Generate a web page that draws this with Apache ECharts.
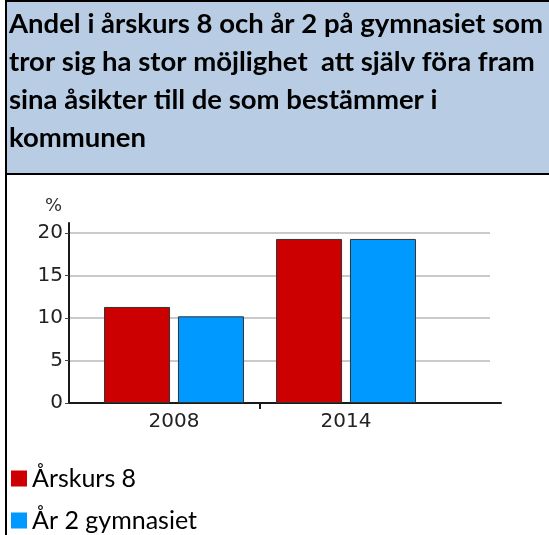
<!DOCTYPE html>
<html>
<head>
<meta charset="UTF-8">
<title></title>
<script src="https://cdn.jsdelivr.net/npm/echarts@6/dist/echarts.min.js"></script>
<style>
* { margin: 0; padding: 0; }
#app { width: 549px; height: 535px; background: #fff; }
</style>
</head>
<body>
<div id="app"></div>
<script>
var myChart = echarts.init(document.getElementById('app'));

var titleLines = [
	'Andel i årskurs 8 och år 2 på gymnasiet som',
	'tror sig ha stor möjlighet  att själv föra fram',
	'sina åsikter till de som bestämmer i',
	'kommunen'
];
var years = ['2008', '2014'];
var seriesNames = ['Årskurs 8', 'År 2 gymnasiet'];
var arskurs8 = [11.3, 19.3];
var gymnasiet = [10.2, 19.3];
var colors = ['#cc0000', '#0099ff'];

// tick between the categories only
var bandEdges = years.slice(1).map(function(y, i) { return i + 1; });

var noAxis = {
	axisLine: { show: false },
	axisTick: { show: false },
	axisLabel: { show: false },
	splitLine: { show: false }
};

function frameAxis(grid) {
	return {
		gridIndex: grid,
		type: 'value',
		min: 0,
		max: 1,
		axisLine: { show: true, onZero: false, lineStyle: { color: '#1a1a1a', width: 2 } },
		axisTick: { show: false },
		axisLabel: { show: false },
		splitLine: { show: false }
	};
}

var option = {
	animation: false,
	title: {
		text: titleLines.join('\n'),
		left: 9,
		top: 5,
		padding: 0,
		textStyle: {
			fontFamily: 'Lato',
			fontWeight: 'bold',
			fontSize: 27.5,
			lineHeight: 38,
			color: '#000'
		}
	},
	graphic: [
		{
			type: 'rect',
			z: -10,
			shape: { x: 6, y: 1, width: 560, height: 173 },
			style: { fill: '#b8cce4', stroke: '#000', lineWidth: 2 }
		},
		{
			type: 'line',
			z: -10,
			shape: { x1: 6, y1: 174, x2: 6, y2: 540 },
			style: { stroke: '#000', lineWidth: 2 }
		}
	],
	legend: {
		orient: 'vertical',
		left: 11,
		top: 466,
		height: 120,
		padding: 0,
		itemWidth: 16,
		itemHeight: 16,
		itemGap: 17,
		icon: 'rect',
		itemStyle: { borderWidth: 0 },
		data: seriesNames,
		textStyle: {
			fontFamily: 'Lato',
			fontSize: 25,
			color: '#000'
		}
	},
	grid: [
		{ left: 69, right: 48, top: 223, bottom: 132 },
		{ left: 69, right: 59, top: 233, bottom: 132 },
		{ left: 88, right: 117, top: 233, bottom: 132 }
	],
	xAxis: [
		frameAxis(0),
		Object.assign({ gridIndex: 1, type: 'value', min: 0, max: 1, show: false }, noAxis),
		{
			gridIndex: 2,
			type: 'category',
			position: 'bottom',
			data: years,
			axisLine: { show: false },
			axisTick: { show: false },
			axisLabel: {
				margin: 9,
				fontFamily: 'DejaVu Sans',
				fontSize: 20,
				color: '#222'
			}
		},
		{
			gridIndex: 2,
			type: 'value',
			position: 'bottom',
			min: 0,
			max: years.length,
			axisLine: { show: false, onZero: false },
			axisTick: { show: true, customValues: bandEdges, length: 6, lineStyle: { color: '#1a1a1a', width: 2 } },
			axisLabel: { show: false },
			splitLine: { show: false }
		}
	],
	yAxis: [
		frameAxis(0),
		{
			gridIndex: 1,
			type: 'value',
			min: 0,
			max: 20,
			interval: 5,
			name: '%',
			nameLocation: 'end',
			nameGap: 18,
			nameTextStyle: {
				fontFamily: 'DejaVu Sans',
				fontSize: 18,
				color: '#333',
				align: 'right',
				padding: [0, 7, 0, 0]
			},
			axisLine: { show: false },
			axisTick: { show: true, length: 4, lineStyle: { color: '#444', width: 1 } },
			axisLabel: {
				margin: 6,
				fontFamily: 'DejaVu Sans',
				fontSize: 20,
				color: '#222'
			},
			splitLine: { show: true, lineStyle: { color: '#b8b8b8', width: 1.5 } }
		},
		Object.assign({ gridIndex: 2, type: 'value', min: 0, max: 20, show: false }, noAxis)
	],
	series: [
		{
			name: seriesNames[0],
			type: 'bar',
			xAxisIndex: 2,
			yAxisIndex: 2,
			barWidth: 66,
			barGap: '12%',
			data: arskurs8,
			itemStyle: { color: colors[0], borderColor: '#333', borderWidth: 1 }
		},
		{
			name: seriesNames[1],
			type: 'bar',
			xAxisIndex: 2,
			yAxisIndex: 2,
			barWidth: 66,
			barGap: '12%',
			data: gymnasiet,
			itemStyle: { color: colors[1], borderColor: '#333', borderWidth: 1 }
		}
	]
};

myChart.setOption(option);
</script>
</body>
</html>
